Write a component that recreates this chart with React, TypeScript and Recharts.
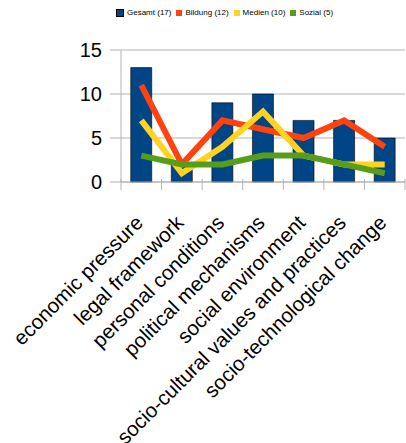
import React from "react";
import { ComposedChart, Bar, Line, XAxis, YAxis, CartesianGrid } from "recharts";

const categories = [
  "economic pressure",
  "legal framework",
  "personal conditions",
  "political mechanisms",
  "social environment",
  "socio-cultural values and practices",
  "socio-technological change",
];
const gesamt = [13, 2, 9, 10, 7, 7, 5];
const bildung = [11, 2, 7, 6, 5, 7, 4];
const medien = [7, 1, 4, 8, 3, 2, 2];
const sozial = [3, 2, 2, 3, 3, 2, 1];
const yTicks = [0, 5, 10, 15];

const seriesInfo = [
  { key: "gesamt", name: "Gesamt (17)", color: "#004586" },
  { key: "bildung", name: "Bildung (12)", color: "#ff420e" },
  { key: "medien", name: "Medien (10)", color: "#ffd320" },
  { key: "sozial", name: "Sozial (5)", color: "#579d1c" },
];

const data = categories.map((c, i) => ({
  name: c,
  gesamt: gesamt[i],
  bildung: bildung[i],
  medien: medien[i],
  sozial: sozial[i],
}));

const W = 406;
const H = 443;
const LEFT = 121;
const RIGHT = 1;
const BAND = (W - LEFT - RIGHT) / categories.length;
const FONT = "'Liberation Sans', Arial, sans-serif";

const XTick = (props: any) => {
  const { x, y, payload, index } = props;
  const top = y - 8;
  const ax = x + 3;
  const ay = top + 42;
  return (
    <g>
      <line x1={x - BAND / 2} y1={top - 3} x2={x - BAND / 2} y2={top + 8} stroke="#b3b3b3" strokeWidth={1} />
      {index === categories.length - 1 && (
        <line x1={x + BAND / 2} y1={top - 3} x2={x + BAND / 2} y2={top + 8} stroke="#b3b3b3" strokeWidth={1} />
      )}
      <text
        x={ax}
        y={ay}
        textAnchor="end"
        transform={`rotate(-45 ${ax} ${ay})`}
        fontSize={20.5}
        fontFamily={FONT}
        fill="#000"
      >
        {payload.value}
      </text>
    </g>
  );
};

const LegendBox = () => (
  <div
    style={{
      position: "absolute",
      top: 9,
      left: 116,
      display: "flex",
      alignItems: "center",
      fontFamily: FONT,
      fontSize: 8,
      color: "#000",
      lineHeight: "8px",
    }}
  >
    {seriesInfo.map((s) => (
      <div key={s.key} style={{ display: "flex", alignItems: "center", marginRight: 5 }}>
        <span
          style={{
            display: "inline-block",
            width: 6,
            height: 6,
            background: s.color,
            border: s.key === "gesamt" ? "0.5px solid #000" : "none",
            marginRight: 3,
          }}
        />
        <span>{s.name}</span>
      </div>
    ))}
  </div>
);

export default function App() {
  return (
    <div style={{ position: "absolute", left: 0, top: 0, width: W, height: H, background: "#fff" }}>
      <ComposedChart
        width={W}
        height={H}
        data={data}
        margin={{ top: 50, right: RIGHT, left: 0, bottom: 11 }}
        barCategoryGap="24%"
      >
        <CartesianGrid vertical={false} stroke="#b3b3b3" strokeWidth={1} />
        <XAxis
          dataKey="name"
          interval={0}
          height={250}
          tick={<XTick />}
          tickLine={false}
          axisLine={{ stroke: "#b3b3b3" }}
        />
        <YAxis
          width={LEFT}
          domain={[0, 15]}
          ticks={yTicks}
          tick={{ fontSize: 20, fill: "#000", fontFamily: FONT }}
          tickSize={11}
          tickMargin={8}
          tickLine={{ stroke: "#b3b3b3" }}
          axisLine={{ stroke: "#b3b3b3" }}
        />
        <Bar dataKey="gesamt" name="Gesamt (17)" fill="#004586" stroke="#000" strokeWidth={0.6} isAnimationActive={false} />
        <Line dataKey="bildung" name="Bildung (12)" stroke="#ff420e" strokeWidth={6} dot={false} activeDot={false} strokeLinejoin="miter" isAnimationActive={false} />
        <Line dataKey="medien" name="Medien (10)" stroke="#ffd320" strokeWidth={6} dot={false} activeDot={false} strokeLinejoin="miter" isAnimationActive={false} />
        <Line dataKey="sozial" name="Sozial (5)" stroke="#579d1c" strokeWidth={6} dot={false} activeDot={false} strokeLinejoin="miter" isAnimationActive={false} />
      </ComposedChart>
      <LegendBox />
    </div>
  );
}
